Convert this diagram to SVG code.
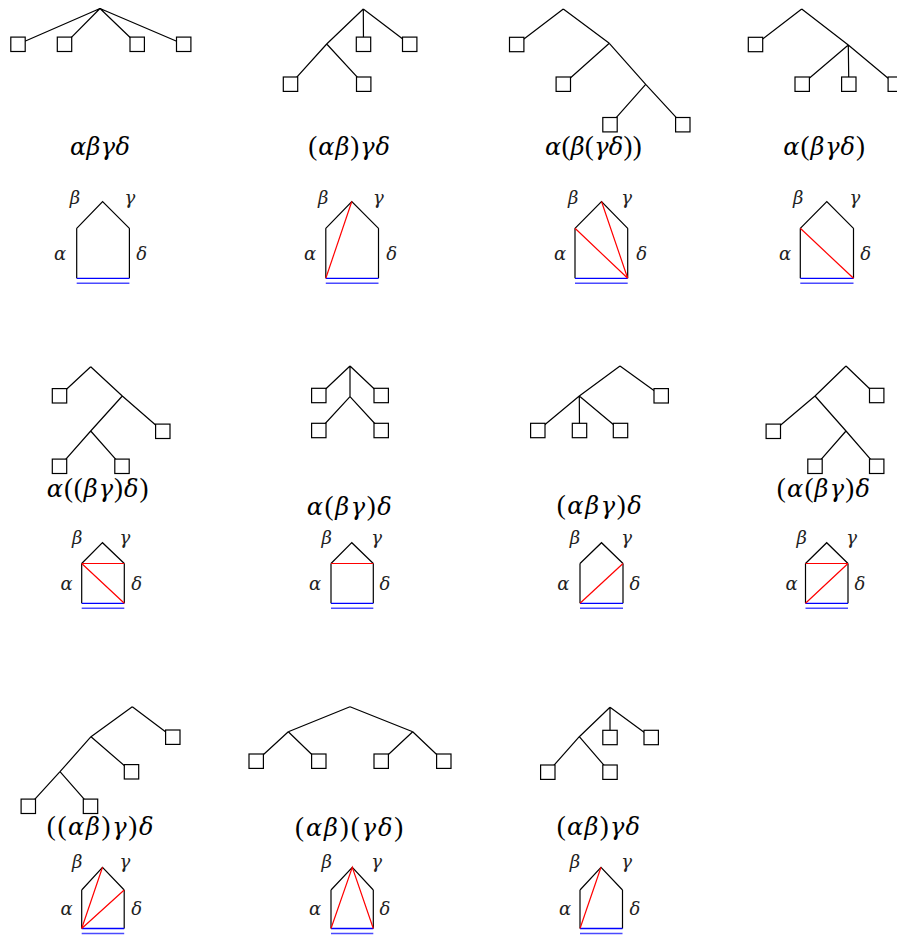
<svg xmlns="http://www.w3.org/2000/svg" width="897" height="938" viewBox="0 0 897 938">
<style>
.e{stroke:#000;stroke-width:1.2;fill:none}
.sq{fill:#fff;stroke:#000;stroke-width:1.2}
.f{font-family:"DejaVu Serif","Liberation Serif",serif;font-style:italic;font-size:24px;fill:#000}
.u{font-style:normal;font-family:"Liberation Serif","DejaVu Serif",serif;font-size:27px}
.l{font-family:"DejaVu Serif","Liberation Serif",serif;font-style:italic;font-size:18px;text-anchor:middle;fill:#222}
.k{stroke:#000;stroke-width:1.2;fill:none}
.r{stroke:#f00;stroke-width:1.2;fill:none}
.b1{stroke:#00f;stroke-width:1.3}
.b2{stroke:#4a4aff;stroke-width:1.6}
</style>
<rect width="897" height="938" fill="#fff"/>
<g id="connectors" class="e">
<path d="M100,8.5L18,44.3M100,8.5L64.5,44.3M100,8.5L137.2,44.3M100,8.5L183.7,44.3"/>
<path d="M363.3,9L363.5,44.3M363.3,9L409.7,44.3M363.3,9L326.7,44M326.7,44L290.5,84.2M326.7,44L363.7,84.2"/>
<path d="M563.3,9L516.7,44.5M563.3,9L609.3,43.3M609.3,43.3L563.3,84.2M609.3,43.3L645.7,84.3M645.7,84.3L610,124.7M645.7,84.3L682.8,124.7"/>
<path d="M801.7,9L755.5,44.5M801.7,9L848.3,45M848.3,45L802.2,84.2M848.3,45L848.8,84.2M848.3,45L895.3,84.2"/>
<path d="M90.7,366.7L59.5,395.8M90.7,366.7L122.3,396M122.3,396L162.8,431.3M122.3,396L90.7,431M90.7,431L59.5,466.3M90.7,431L122,466.3"/>
<path d="M350,366L318.8,395.5M350,366L381.2,395.5M350,366L350,396.7M350,396.7L318.8,430.5M350,396.7L381.2,430.5"/>
<path d="M620,366L661.2,395.8M620,366L579.3,396M579.3,396L537.8,430.5M579.3,396L579.5,430.5M579.3,396L620.5,430.5"/>
<path d="M846,366L876.7,395.5M846,366L815,396M815,396L773.3,431.3M815,396L846,431M846,431L815,466.3M846,431L876.7,466.3"/>
<path d="M132.3,706.7L172.8,737.2M132.3,706.7L91,736.7M91,736.7L131.5,771.8M91,736.7L60,771.7M60,771.7L28.3,806.3M60,771.7L90.5,806.3"/>
<path d="M350,706.7L288.3,731.7M350,706.7L412.7,731.7M288.3,731.7L256.2,761.2M288.3,731.7L318.8,761.2M412.7,731.7L381.2,761.2M412.7,731.7L443.8,761.2"/>
<path d="M610,707.3L610,737.5M610,707.3L651.2,737.5M610,707.3L579.3,736.7M579.3,736.7L547.8,772.2M579.3,736.7L610,772.2"/>
</g>
<g id="p1-leaves" class="sq">
<g id="p1-n1"><rect x="10.8" y="37.1" width="14.4" height="14.4"/></g>
<g id="p1-n2"><rect x="57.3" y="37.1" width="14.4" height="14.4"/></g>
<g id="p1-n3"><rect x="130" y="37.1" width="14.4" height="14.4"/></g>
<g id="p1-n4"><rect x="176.5" y="37.1" width="14.4" height="14.4"/></g>
</g>
<g id="p2-leaves" class="sq">
<g id="p2-n1"><rect x="356.3" y="37.1" width="14.4" height="14.4"/></g>
<g id="p2-n2"><rect x="402.5" y="37.1" width="14.4" height="14.4"/></g>
<g id="p2-n3"><rect x="283.3" y="77" width="14.4" height="14.4"/></g>
<g id="p2-n4"><rect x="356.5" y="77" width="14.4" height="14.4"/></g>
</g>
<g id="p3-leaves" class="sq">
<g id="p3-n1"><rect x="509.5" y="37.3" width="14.4" height="14.4"/></g>
<g id="p3-n2"><rect x="556.1" y="77" width="14.4" height="14.4"/></g>
<g id="p3-n3"><rect x="602.8" y="117.5" width="14.4" height="14.4"/></g>
<g id="p3-n4"><rect x="675.6" y="117.5" width="14.4" height="14.4"/></g>
</g>
<g id="p4-leaves" class="sq">
<g id="p4-n1"><rect x="748.3" y="37.3" width="14.4" height="14.4"/></g>
<g id="p4-n2"><rect x="795" y="77" width="14.4" height="14.4"/></g>
<g id="p4-n3"><rect x="841.6" y="77" width="14.4" height="14.4"/></g>
<g id="p4-n4"><rect x="888.1" y="77" width="14.4" height="14.4"/></g>
</g>
<g id="p5-leaves" class="sq">
<g id="p5-n1"><rect x="52.3" y="388.6" width="14.4" height="14.4"/></g>
<g id="p5-n2"><rect x="155.6" y="424.1" width="14.4" height="14.4"/></g>
<g id="p5-n3"><rect x="52.3" y="459.1" width="14.4" height="14.4"/></g>
<g id="p5-n4"><rect x="114.8" y="459.1" width="14.4" height="14.4"/></g>
</g>
<g id="p6-leaves" class="sq">
<g id="p6-n1"><rect x="311.6" y="388.3" width="14.4" height="14.4"/></g>
<g id="p6-n2"><rect x="374" y="388.3" width="14.4" height="14.4"/></g>
<g id="p6-n3"><rect x="311.6" y="423.3" width="14.4" height="14.4"/></g>
<g id="p6-n4"><rect x="374" y="423.3" width="14.4" height="14.4"/></g>
</g>
<g id="p7-leaves" class="sq">
<g id="p7-n1"><rect x="654" y="388.6" width="14.4" height="14.4"/></g>
<g id="p7-n2"><rect x="530.6" y="423.3" width="14.4" height="14.4"/></g>
<g id="p7-n3"><rect x="572.3" y="423.3" width="14.4" height="14.4"/></g>
<g id="p7-n4"><rect x="613.3" y="423.3" width="14.4" height="14.4"/></g>
</g>
<g id="p8-leaves" class="sq">
<g id="p8-n1"><rect x="869.5" y="388.3" width="14.4" height="14.4"/></g>
<g id="p8-n2"><rect x="766.1" y="424.1" width="14.4" height="14.4"/></g>
<g id="p8-n3"><rect x="807.8" y="459.1" width="14.4" height="14.4"/></g>
<g id="p8-n4"><rect x="869.5" y="459.1" width="14.4" height="14.4"/></g>
</g>
<g id="p9-leaves" class="sq">
<g id="p9-n1"><rect x="165.6" y="730" width="14.4" height="14.4"/></g>
<g id="p9-n2"><rect x="124.3" y="764.6" width="14.4" height="14.4"/></g>
<g id="p9-n3"><rect x="21.1" y="799.1" width="14.4" height="14.4"/></g>
<g id="p9-n4"><rect x="83.3" y="799.1" width="14.4" height="14.4"/></g>
</g>
<g id="p10-leaves" class="sq">
<g id="p10-n1"><rect x="249" y="754" width="14.4" height="14.4"/></g>
<g id="p10-n2"><rect x="311.6" y="754" width="14.4" height="14.4"/></g>
<g id="p10-n3"><rect x="374" y="754" width="14.4" height="14.4"/></g>
<g id="p10-n4"><rect x="436.6" y="754" width="14.4" height="14.4"/></g>
</g>
<g id="p11-leaves" class="sq">
<g id="p11-n1"><rect x="602.8" y="730.3" width="14.4" height="14.4"/></g>
<g id="p11-n2"><rect x="644" y="730.3" width="14.4" height="14.4"/></g>
<g id="p11-n3"><rect x="540.6" y="765" width="14.4" height="14.4"/></g>
<g id="p11-n4"><rect x="602.8" y="765" width="14.4" height="14.4"/></g>
</g>
<g id="formulas" class="f">
<text x="70" y="155" textLength="60">αβγδ</text>
<text x="308.3" y="155" textLength="81.7"><tspan class="u">(</tspan>αβ<tspan class="u">)</tspan>γδ</text>
<text x="545" y="155" textLength="96.7">α<tspan class="u">(</tspan>β<tspan class="u">(</tspan>γδ<tspan class="u">))</tspan></text>
<text x="783.3" y="155" textLength="81.7">α<tspan class="u">(</tspan>βγδ<tspan class="u">)</tspan></text>
<text x="46.7" y="497" textLength="101.7">α<tspan class="u">((</tspan>βγ<tspan class="u">)</tspan>δ<tspan class="u">)</tspan></text>
<text x="306.7" y="514.5" textLength="85">α<tspan class="u">(</tspan>βγ<tspan class="u">)</tspan>δ</text>
<text x="556.7" y="514" textLength="85"><tspan class="u">(</tspan>αβγ<tspan class="u">)</tspan>δ</text>
<text x="776.7" y="497" textLength="93.3"><tspan class="u">(</tspan>α<tspan class="u">(</tspan>βγ<tspan class="u">)</tspan>δ</text>
<text x="46.7" y="835" textLength="106.7"><tspan class="u">((</tspan>αβ<tspan class="u">)</tspan>γ<tspan class="u">)</tspan>δ</text>
<text x="295" y="836" textLength="108.3"><tspan class="u">(</tspan>αβ<tspan class="u">)(</tspan>γδ<tspan class="u">)</tspan></text>
<text x="556.7" y="835" textLength="83.3"><tspan class="u">(</tspan>αβ<tspan class="u">)</tspan>γδ</text>
</g>
<g id="polygons">
<g id="poly1">
<path class="k" d="M76.7,228.3L102.6,201.5L129.4,228.3M76.7,228.3V278.3M129.4,228.3V278.3"/>
<path class="b1" d="M76.7,278.3H129.4"/><path class="b2" d="M76.7,283.3H129.4"/>
</g>
<g id="poly2">
<path class="k" d="M325.8,228.3L351.8,201.5L378.5,228.3M325.8,228.3V278.3M378.5,228.3V278.3"/>
<path class="b1" d="M325.8,278.3H378.5"/><path class="b2" d="M325.8,283.3H378.5"/>
<path class="r" d="M325.8,278.3L351.8,201.5"/>
</g>
<g id="poly3">
<path class="k" d="M575,228.3L601.5,201.5L627.7,228.3M575,228.3V278.3M627.7,228.3V278.3"/>
<path class="b1" d="M575,278.3H627.7"/><path class="b2" d="M575,283.3H627.7"/>
<path class="r" d="M575,228.3L627.7,278.3M601.5,201.5L627.7,278.3"/>
</g>
<g id="poly4">
<path class="k" d="M800.3,228.3L826.8,201.5L853.5,228.3M800.3,228.3V278.3M853.5,228.3V278.3"/>
<path class="b1" d="M800.3,278.3H853.5"/><path class="b2" d="M800.3,283.3H853.5"/>
<path class="r" d="M800.3,228.3L853.5,278.3"/>
</g>
<g id="poly5">
<path class="k" d="M81.7,563.5L102.5,542.7L124.3,563.5M81.7,563.5V603.3M124.3,563.5V603.3"/>
<path class="b1" d="M81.7,603.3H124.3"/><path class="b2" d="M81.7,608.3H124.3"/>
<path class="r" d="M81.7,563.5H124.3M81.7,563.5L124.3,603.3"/>
</g>
<g id="poly6">
<path class="k" d="M331,563.5L351.8,542.7L373.3,563.5M331,563.5V603.3M373.3,563.5V603.3"/>
<path class="b1" d="M331,603.3H373.3"/><path class="b2" d="M331,608.3H373.3"/>
<path class="r" d="M331,563.5H373.3"/>
</g>
<g id="poly7">
<path class="k" d="M580,563.5L601.5,542.7L623,563.5M580,563.5V603.3M623,563.5V603.3"/>
<path class="b1" d="M580,603.3H623"/><path class="b2" d="M580,608.3H623"/>
<path class="r" d="M580,603.3L623,563.5"/>
</g>
<g id="poly8">
<path class="k" d="M805.5,563.5L826.7,542.7L848,563.5M805.5,563.5V603.3M848,563.5V603.3"/>
<path class="b1" d="M805.5,603.3H848"/><path class="b2" d="M805.5,608.3H848"/>
<path class="r" d="M805.5,563.5H848M805.5,603.3L848,563.5"/>
</g>
<g id="poly9">
<path class="k" d="M81.7,890L102.5,867.3L124.2,890M81.7,890V928.5M124.2,890V928.5"/>
<path class="b1" d="M81.7,928.5H124.2"/><path class="b2" d="M81.7,933.5H124.2"/>
<path class="r" d="M81.7,928.5L102.5,867.3M81.7,928.5L124.2,890"/>
</g>
<g id="poly10">
<path class="k" d="M331,890L352.3,867.3L373.3,890M331,890V928.5M373.3,890V928.5"/>
<path class="b1" d="M331,928.5H373.3"/><path class="b2" d="M331,933.5H373.3"/>
<path class="r" d="M331,928.5L352.3,867.3L373.3,928.5"/>
</g>
<g id="poly11">
<path class="k" d="M580,890L601,867.3L622.5,890M580,890V928.5M622.5,890V928.5"/>
<path class="b1" d="M580,928.5H622.5"/><path class="b2" d="M580,933.5H622.5"/>
<path class="r" d="M580,928.5L601,867.3"/>
</g>
</g>
<g id="labels" class="l">
<text x="75" y="203.5">β</text><text x="130" y="203.5">γ</text><text x="60" y="260">α</text><text x="141.7" y="260">δ</text>
<text x="323.3" y="203.5">β</text><text x="378.3" y="203.5">γ</text><text x="310" y="260">α</text><text x="391.7" y="260">δ</text>
<text x="573.3" y="203.5">β</text><text x="626.7" y="203.5">γ</text><text x="560" y="260">α</text><text x="641.7" y="260">δ</text>
<text x="798.3" y="203.5">β</text><text x="855" y="203.5">γ</text><text x="785" y="260">α</text><text x="865.7" y="260">δ</text>
<text x="77.3" y="543.5">β</text><text x="125" y="543.5">γ</text><text x="66.7" y="589.5">α</text><text x="136.7" y="589.5">δ</text>
<text x="326.7" y="543.5">β</text><text x="376.7" y="543.5">γ</text><text x="315" y="589.5">α</text><text x="385" y="589.5">δ</text>
<text x="575" y="543.5">β</text><text x="626.7" y="543.5">γ</text><text x="563.3" y="589.5">α</text><text x="635" y="589.5">δ</text>
<text x="801.7" y="543.5">β</text><text x="851.7" y="543.5">γ</text><text x="791.7" y="589.5">α</text><text x="860" y="589.5">δ</text>
<text x="77.3" y="868">β</text><text x="125" y="868">γ</text><text x="66.7" y="914.5">α</text><text x="136.7" y="914.5">δ</text>
<text x="326.7" y="868">β</text><text x="376.7" y="868">γ</text><text x="315" y="914.5">α</text><text x="385" y="914.5">δ</text>
<text x="575" y="868">β</text><text x="626.7" y="868">γ</text><text x="565" y="914.5">α</text><text x="635" y="914.5">δ</text>
</g>
</svg>
